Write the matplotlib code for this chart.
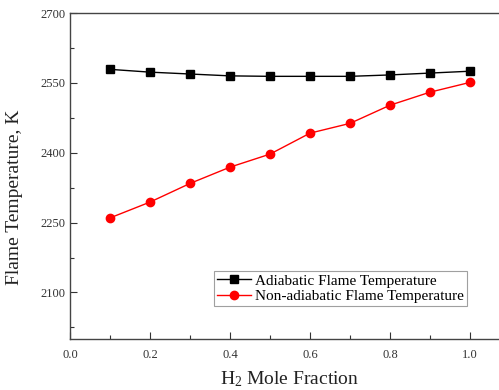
import matplotlib
matplotlib.use("Agg")
import matplotlib.pyplot as plt
from matplotlib.ticker import FixedLocator

plt.rcParams["font.family"] = ["Liberation Serif", "DejaVu Serif"]
plt.rcParams["mathtext.fontset"] = "custom"
plt.rcParams["mathtext.rm"] = "Liberation Serif"

h2_fraction = [0.1, 0.2, 0.3, 0.4, 0.5, 0.6, 0.7, 0.8, 0.9, 1.0]
adiabatic = [2579, 2573, 2569, 2565, 2564, 2564, 2564, 2567, 2571, 2575]
non_adiabatic = [2260, 2294, 2334, 2369, 2397, 2442, 2463, 2502, 2530, 2551]

fig = plt.figure(figsize=(4.99, 3.9), dpi=100)
ax = fig.add_axes([70 / 499, 51 / 390, 440 / 499, 326 / 390])

ax.plot(h2_fraction, adiabatic, color="black", marker="s", markersize=5.5,
        linewidth=1, label="Adiabatic Flame Temperature")
ax.plot(h2_fraction, non_adiabatic, color="red", marker="o", markersize=6,
        linewidth=1, label="Non-adiabatic Flame Temperature")

ax.set_xlim(0, 1.1)
ax.set_ylim(2000, 2700)
ax.xaxis.set_major_locator(FixedLocator([0.0, 0.2, 0.4, 0.6, 0.8, 1.0]))
ax.xaxis.set_minor_locator(FixedLocator([0.1, 0.3, 0.5, 0.7, 0.9]))
ax.yaxis.set_major_locator(FixedLocator([2100, 2250, 2400, 2550, 2700]))
ax.yaxis.set_minor_locator(FixedLocator([2025, 2175, 2325, 2475, 2625]))

ax.tick_params(which="both", direction="in", labelsize=9, colors="#333333",
               labelcolor="#333333")
ax.tick_params(which="major", length=5, width=0.8)
ax.tick_params(which="minor", length=3, width=0.8)
ax.tick_params(axis="x", pad=7)
for s in ax.spines.values():
    s.set_color("#444444")
    s.set_linewidth(1)

ax.set_xlabel(r"$\mathregular{H_2}$ Mole Fraction", fontsize=14,
              color="#222222", labelpad=6)
ax.set_ylabel("Flame Temperature, K", fontsize=14, color="#222222",
              labelpad=12)
ax.yaxis.label.set_y(0.436)

leg = ax.legend(loc="lower left", bbox_to_anchor=(144 / 440, 33 / 326),
                fontsize=11, frameon=True, fancybox=False, borderpad=0.2,
                labelspacing=0.1, handlelength=2.2, handletextpad=0.3,
                borderaxespad=0)
leg.get_frame().set_edgecolor("#888888")
leg.get_frame().set_linewidth(0.8)

fig.savefig("out.png", dpi=100)
